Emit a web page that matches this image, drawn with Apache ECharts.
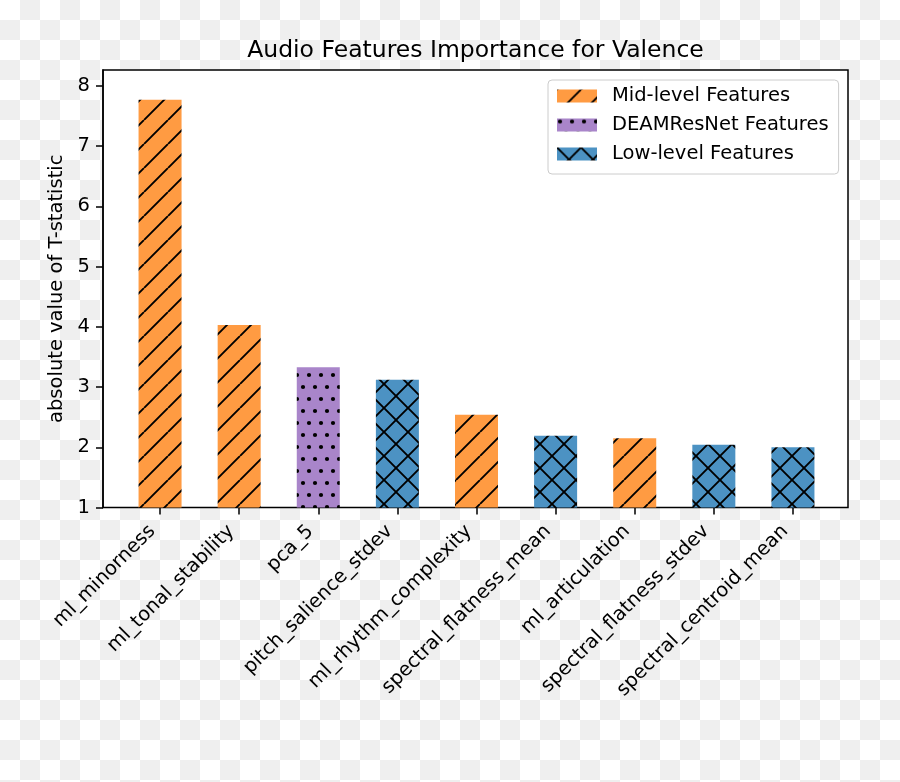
<!DOCTYPE html>
<html>
<head>
<meta charset="utf-8">
<script src="https://cdn.jsdelivr.net/npm/echarts@6/dist/echarts.min.js"></script>
<style>
  html, body {
    margin: 0;
    padding: 0;
    width: 900px;
    height: 782px;
    background: repeating-conic-gradient(#efefef 0 25%, #ffffff 0 50%) 0 0 / 40px 40px;
  }
  #chart { width: 900px; height: 782px; }
</style>
</head>
<body>
<div id="chart"></div>
<script>
const categories = [
  "ml_minorness", "ml_tonal_stability", "pca_5", "pitch_salience_stdev",
  "ml_rhythm_complexity", "spectral_flatness_mean", "ml_articulation",
  "spectral_flatness_stdev", "spectral_centroid_mean"
];
const values = [7.77, 4.03, 3.33, 3.12, 2.54, 2.19, 2.15, 2.04, 2.0];
const groups = ["mid", "mid", "deam", "low", "mid", "low", "mid", "low", "low"];
const groupNames = {
  mid: "Mid-level Features",
  deam: "DEAMResNet Features",
  low: "Low-level Features"
};
const yTicks = [1, 2, 3, 4, 5, 6, 7, 8];

const font = "DejaVu Sans";

// hatch fills, like matplotlib '/', '.', 'x'
function hatch(bg, kind) {
  const s = 24;
  const c = document.createElement("canvas");
  c.width = s;
  c.height = s;
  const g = c.getContext("2d");
  g.fillStyle = bg;
  g.fillRect(0, 0, s, s);
  g.strokeStyle = "#000";
  g.fillStyle = "#000";
  g.lineWidth = 1.9;
  if (kind === "/" || kind === "x") {
    g.beginPath();
    for (let k = -1; k <= 1; k++) {
      g.moveTo(k * s, s);
      g.lineTo(k * s + s, 0);
    }
    g.stroke();
  }
  if (kind === "x") {
    g.beginPath();
    for (let k = -1; k <= 1; k++) {
      g.moveTo(k * s, 0);
      g.lineTo(k * s + s, s);
    }
    g.stroke();
  }
  if (kind === ".") {
    const pts = [[3, 3], [15, 3], [9, 15], [21, 15]];
    pts.forEach(function (p) {
      g.beginPath();
      g.arc(p[0], p[1], 2.1, 0, Math.PI * 2);
      g.fill();
    });
  }
  return { image: c, repeat: "repeat" };
}

const fills = {
  mid: hatch("#ff9b42", "/"),
  deam: hatch("#a985ca", "."),
  low: hatch("#4c92c3", "x")
};

const chart = echarts.init(document.getElementById("chart"), null, { renderer: "canvas" });

const series = ["mid", "deam", "low"].map(function (key) {
  return {
    name: groupNames[key],
    type: "bar",
    xAxisIndex: 1,
    yAxisIndex: 1,
    barWidth: 43,
    barGap: "-100%",
    itemStyle: { color: fills[key] },
    data: values.map(function (v, i) { return groups[i] === key ? v : "-"; })
  };
});

const option = {
  animation: false,
  backgroundColor: "transparent",
  textStyle: { fontFamily: font },
  title: {
    text: "Audio Features Importance for Valence",
    left: 475.5,
    top: 39,
    textAlign: "center",
    padding: 0,
    textStyle: { fontFamily: font, fontSize: 23.5, fontWeight: "normal", color: "#000" }
  },
  legend: {
    orient: "vertical",
    left: 548,
    top: 80,
    padding: [6, 10, 10, 9],
    itemGap: 9,
    itemWidth: 40,
    itemHeight: 13,
    icon: "rect",
    backgroundColor: "rgba(255,255,255,0.85)",
    borderColor: "#cccccc",
    borderWidth: 1,
    borderRadius: 4,
    textStyle: { fontFamily: font, fontSize: 19.5, color: "#000", lineHeight: 19.5, padding: [0, 0, 0, 10] },
    data: [groupNames.mid, groupNames.deam, groupNames.low]
  },
  grid: [
    { left: 103, top: 70, width: 745, height: 437.5, show: true, backgroundColor: "#fff",
      borderColor: "#000", borderWidth: 1.5 },
    { left: 120.5, top: 70, width: 712, height: 437.5 }
  ],
  xAxis: [
    { type: "value", gridIndex: 0, show: false, min: 0, max: 1 },
    {
      type: "category",
      gridIndex: 1,
      data: categories,
      axisLine: { show: false },
      axisTick: { show: true, alignWithLabel: true, length: 7, lineStyle: { color: "#000", width: 1.5 } },
      axisLabel: {
        rotate: 45,
        interval: 0,
        margin: 13,
        padding: [0, 11, 0, 0],
        fontFamily: font,
        fontSize: 19.5,
        color: "#000"
      }
    }
  ],
  yAxis: [
    {
      type: "value",
      gridIndex: 0,
      min: 1,
      max: 8.262,
      name: "absolute value of T-statistic",
      nameLocation: "middle",
      nameRotate: 90,
      nameGap: 32,
      nameTextStyle: { fontFamily: font, fontSize: 19.5, color: "#000" },
      splitLine: { show: false },
      axisLine: { show: true, lineStyle: { color: "#000", width: 1.5 } },
      axisTick: { show: true, length: 7, customValues: yTicks, lineStyle: { color: "#000", width: 1.5 } },
      axisLabel: { customValues: yTicks, margin: 13, fontFamily: font, fontSize: 19.5, color: "#000" }
    },
    { type: "value", gridIndex: 1, min: 1, max: 8.262, show: false }
  ],
  series: series
};

chart.setOption(option);
window.addEventListener("resize", chart.resize);
</script>
</body>
</html>
